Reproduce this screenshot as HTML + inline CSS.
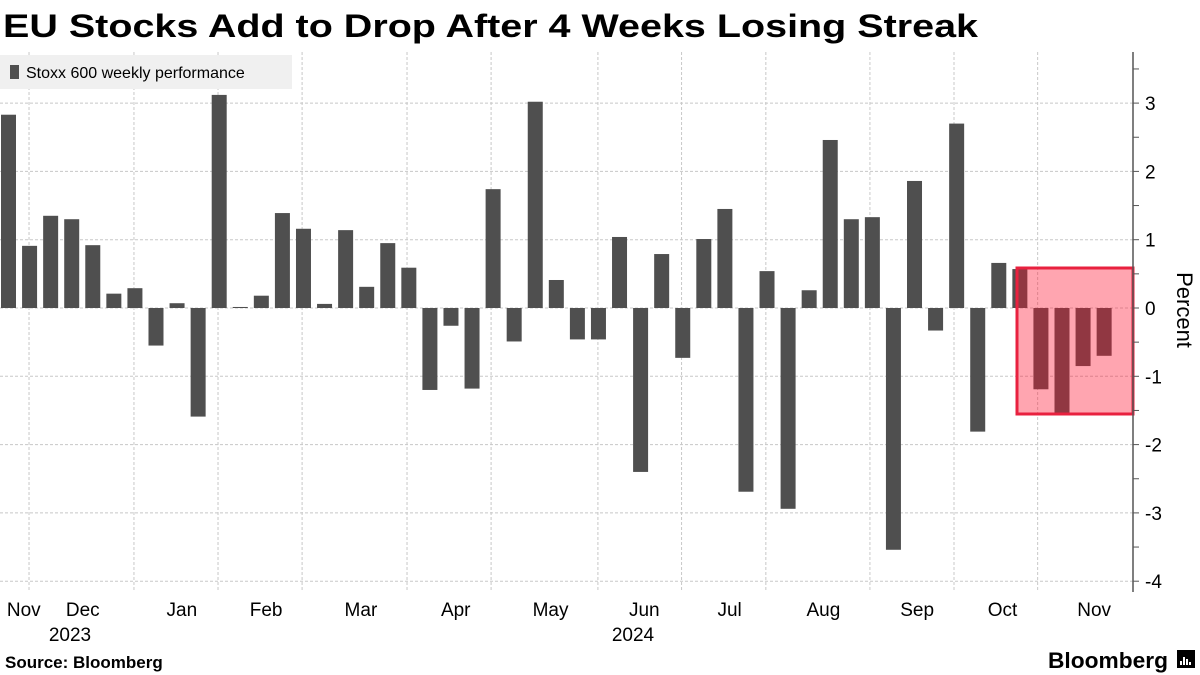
<!DOCTYPE html>
<html><head><meta charset="utf-8"><style>
body{margin:0;background:#fff;}
svg{display:block;font-family:"Liberation Sans",sans-serif;}
</style></head><body>
<svg id="chart" width="1200" height="675" viewBox="0 0 1200 675">
<text x="3" y="37" font-size="32" font-weight="bold" fill="#000" textLength="975" lengthAdjust="spacingAndGlyphs">EU Stocks Add to Drop After 4 Weeks Losing Streak</text>
<g id="grid"></g>
<g id="bars"></g>
<rect x="1017" y="268" width="116" height="146" fill="rgba(255,15,44,0.375)" stroke="#e8213f" stroke-width="3"/>
<g id="axis"></g>
<text transform="translate(1177,310) rotate(90)" text-anchor="middle" font-size="22" fill="#000">Percent</text>
<g>
<rect x="0" y="55" width="292" height="34" fill="#f0f0f0"/>
<rect x="10" y="65" width="9" height="14" fill="#4f4f4f"/>
<text x="26" y="78" font-size="16" fill="#000">Stoxx 600 weekly performance</text>
</g>
<g id="xlabels"></g>
<text x="70" y="641" text-anchor="middle" font-size="19">2023</text>
<text x="633" y="641" text-anchor="middle" font-size="19">2024</text>
<text x="5" y="668" font-size="17" font-weight="bold">Source: Bloomberg</text>
<text x="1048" y="668" font-size="22" font-weight="bold" textLength="120" lengthAdjust="spacingAndGlyphs">Bloomberg</text>
<rect x="1177" y="650" width="18" height="18" fill="#000"/>
<path d="M1181 665v-4M1184 665v-8M1187 665v-6M1190 665v-3" stroke="#fff" stroke-width="2"/>
</svg>
<script>
const values=[2.83,0.91,1.35,1.30,0.92,0.21,0.29,-0.55,0.07,-1.59,3.12,0.015,0.18,1.39,1.16,0.06,1.14,0.31,0.95,0.59,-1.20,-0.26,-1.18,1.74,-0.49,3.02,0.41,-0.46,-0.46,1.04,-2.40,0.79,-0.73,1.01,1.45,-2.69,0.54,-2.94,0.26,2.46,1.30,1.33,-3.54,1.86,-0.33,2.70,-1.81,0.66,0.57,-1.19,-1.54,-0.85,-0.70];
const yTicks=[3,2,1,0,-1,-2,-3,-4];
const monthLabels=["Nov","Dec","Jan","Feb","Mar","Apr","May","Jun","Jul","Aug","Sep","Oct","Nov"];
const monthPos=[0.75,3.55,8.25,12.25,16.75,21.25,25.75,30.2,34.25,38.7,43.15,47.2,51.55];
const gridPos=[1.33,6.31,10.3,14.29,19.27,23.26,28.33,32.3,36.3,41.24,45.23,49.2];
const NS="http://www.w3.org/2000/svg";
const y0=308,unit=68.3,pitch=21.07,bw=15,x0=1;
const Y=v=>y0-v*unit;
const X=i=>x0+i*pitch;
function mk(tag,attrs,parent){const e=document.createElementNS(NS,tag);for(const k in attrs)e.setAttribute(k,attrs[k]);parent.appendChild(e);return e;}
const grid=document.getElementById('grid');
yTicks.forEach(t=>{const l=mk('line',{x1:0,x2:1133,y1:Y(t),y2:Y(t),stroke:'#c8c8c8','stroke-dasharray':'3,2'},grid);

});
gridPos.forEach(p=>{const l=mk('line',{x1:X(p),x2:X(p),y1:52,y2:592,stroke:'#c8c8c8','stroke-dasharray':'3,2'},grid);

});
const bars=document.getElementById('bars');
values.forEach((v,i)=>{const r=mk('rect',{x:X(i),y:Math.min(Y(v),y0),width:bw,height:Math.abs(v*unit),fill:'#4f4f4f'},bars);

});
const ax=document.getElementById('axis');
mk('line',{x1:1133,x2:1133,y1:52,y2:592,stroke:'#555','stroke-width':1.5},ax);
for(let t=-4;t<=3.5;t+=0.5){mk('line',{x1:1133,x2:1139,y1:Y(t),y2:Y(t),stroke:'#555'},ax);}
yTicks.forEach(t=>{const tx=mk('text',{x:1145,y:Y(t)+7,'font-size':19,fill:'#000'},ax);tx.textContent=t<0?'-'+Math.abs(t):String(t);

});
const xl=document.getElementById('xlabels');
monthLabels.forEach((m,i)=>{const tx=mk('text',{x:X(monthPos[i])+7,y:616,'text-anchor':'middle','font-size':19},xl);tx.textContent=m;

});
</script>
</body></html>
